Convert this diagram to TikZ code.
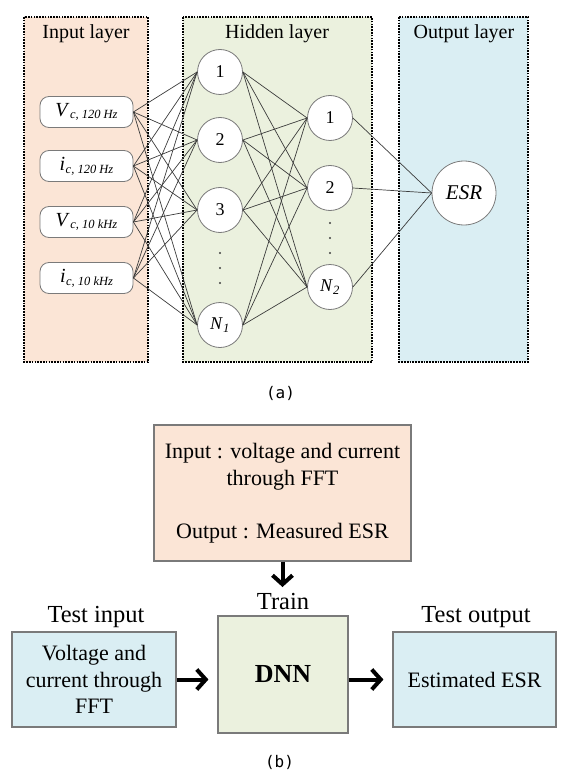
\documentclass[tikz,border=0pt]{standalone}
\usepackage{fontspec}
\setmainfont{Liberation Serif}
\newfontfamily\capfont{DejaVu Sans Mono}
\usetikzlibrary{arrows.meta}
\definecolor{peach}{HTML}{FBE5D6}
\definecolor{lgreen}{HTML}{EBF1DE}
\definecolor{lblue}{HTML}{DAEEF3}
\definecolor{edgegray}{HTML}{3C3C3C}
\definecolor{bordgray}{HTML}{7A7A7A}
\newcommand\insub[2]{\textit{#1}\kern0.5pt\raisebox{-0.3ex}{\fontsize{12.5}{12.5}\selectfont\itshape #2}}
\begin{document}
\begin{tikzpicture}[x=1pt,y=-1pt,
  layerbox/.style={draw=black,line width=1.7pt,dash pattern=on 1.7pt off 1.1pt},
  layertitle/.style={font=\fontsize{20}{20}\selectfont,inner sep=0pt},
  inp/.style={draw=bordgray,fill=white,line width=0.8pt,rounded corners=9pt,minimum width=93pt,minimum height=31pt,inner sep=0pt,font=\fontsize{20}{20}\selectfont},
  neuron/.style={circle,draw=bordgray,fill=white,line width=0.8pt,minimum size=45pt,inner sep=0pt,font=\fontsize{18}{18}\selectfont},
  conn/.style={draw=edgegray,line width=0.7pt},
  bbox/.style={draw=bordgray,line width=1.1pt,inner sep=0pt,align=center},
  blabel/.style={font=\fontsize{24.5}{24.5}\selectfont,inner sep=0pt},
  fat/.style={line width=4pt,-{Straight Barb[length=9pt,width=20pt]}},
  caplab/.style={font=\capfont\fontsize{16}{16}\selectfont,inner sep=0pt}
]
\useasboundingbox (0,0) rectangle (564,778);
% layer boxes
\path[layerbox,fill=peach] (24,17) rectangle (148,362);
\path[layerbox,fill=lgreen] (183,17) rectangle (372,362);
\path[layerbox,fill=lblue] (399,17) rectangle (528,362);
\node[layertitle] (tin1) at (86,34) {Input layer};
\node[layertitle] (thid) at (277,34) {Hidden layer};
\node[layertitle] (tout1) at (464,34) {Output layer};
% input nodes
\node[inp] (i1) at (86.5,112) {\insub{V}{c, 120 Hz}};
\node[inp] (i2) at (86.5,166) {\insub{i}{c, 120 Hz}};
\node[inp] (i3) at (86.5,222) {\insub{V}{c, 10 kHz}};
\node[inp] (i4) at (86.5,278) {\insub{i}{c, 10 kHz}};
% hidden layer 1
\node[neuron] (h1) at (220,72) {1};
\node[neuron] (h2) at (220,140) {2};
\node[neuron] (h3) at (220,210) {3};
\node[neuron] (h4) at (220,325) {\textit{N}\textsubscript{\itshape 1}};
% hidden layer 2
\node[neuron] (g1) at (330,118) {1};
\node[neuron] (g2) at (330,188) {2};
\node[neuron] (g3) at (330,287) {\textit{N}\textsubscript{\itshape 2}};
% output
\node[neuron,minimum size=64pt,font=\fontsize{21}{21}\selectfont\itshape] (esr) at (464,193) {ESR};
% dots
\foreach \y in {253,268,283} \fill[black!75] (220,\y) circle (1.2pt);
\foreach \y in {223,238,253} \fill[black!75] (330,\y) circle (1.2pt);
% connections
\foreach \a in {i1,i2,i3,i4} \foreach \b in {h1,h2,h3,h4} \draw[conn] (\a.east) -- (\b.west);
\foreach \a in {h1,h2,h3,h4} \foreach \b in {g1,g2,g3} \draw[conn] (\a.east) -- (\b.west);
\foreach \a in {g1,g2,g3} \draw[conn] (\a.east) -- (esr.west);
\node[caplab] (capa) at (280.5,393) {(a)};
% part b
\node[bbox,fill=peach,minimum width=257pt,minimum height=136pt,font=\fontsize{22}{26.5}\selectfont] (train) at (282.5,493) {Input : voltage and current\\ through FFT\\[26.5pt] Output : Measured ESR};
\node[blabel] (trl) at (283,602) {Train};
\coordinate (dtip) at (282.5,587);
\draw[fat] (train.south) -- (dtip);
\node[bbox,fill=lgreen,minimum width=130pt,minimum height=117pt,font=\fontsize{26}{26}\selectfont\bfseries] (dnn) at (283,674.5) {DNN};
\node[bbox,fill=lblue,minimum width=164pt,minimum height=95pt,font=\fontsize{22}{26.5}\selectfont] (tin) at (94,679.5) {Voltage and\\ current through\\ FFT};
\node[bbox,fill=lblue,minimum width=163pt,minimum height=95pt,font=\fontsize{22}{22}\selectfont] (tout) at (474.5,679.5) {Estimated ESR};
\node[blabel] (til) at (96,617) {Test input};
\node[blabel] (tol) at (476,617) {Test output};
\draw[fat,shorten >=9pt] (tin.east) -- (tin.east -| dnn.west);
\draw[fat,shorten >=9pt] (dnn.east |- tout.west) -- (tout.west);
\node[caplab] (capb) at (279.5,762) {(b)};
\end{tikzpicture}
\end{document}
